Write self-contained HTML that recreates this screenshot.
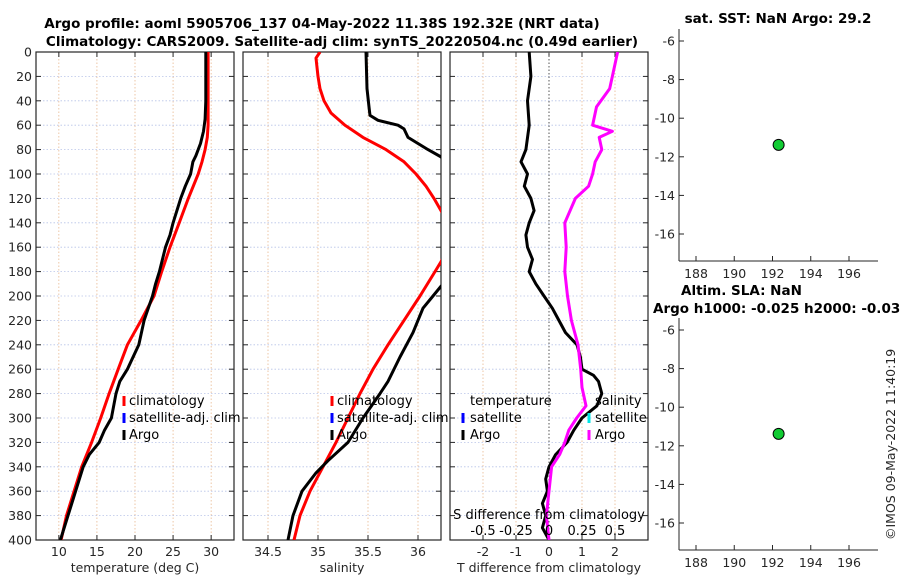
<!DOCTYPE html>
<html><head><meta charset="utf-8"><style>
body{margin:0;background:#fff;}
svg{display:block;font-family:"DejaVu Sans","Liberation Sans",sans-serif;}
.tk{font-size:12.5px;fill:#262626;}
.ttl{font-size:13.5px;font-weight:bold;fill:#000;}
.lg{font-size:13px;fill:#000;}
</style></head><body>
<svg id="c" width="900" height="580" viewBox="0 0 900 580">
<text class="ttl" x="322" y="28" text-anchor="middle">Argo profile: aoml 5905706_137 04-May-2022 11.38S 192.32E (NRT data)</text>
<text class="ttl" x="342" y="46" text-anchor="middle">Climatology: CARS2009. Satellite-adj clim: synTS_20220504.nc (0.49d earlier)</text>
<text class="ttl" x="778" y="23" text-anchor="middle">sat. SST: NaN Argo: 29.2</text>
<text class="ttl" x="681" y="295">Altim. SLA: NaN</text>
<text class="ttl" x="653" y="313">Argo h1000: -0.025 h2000: -0.033</text>
<text class="tk" transform="translate(895,540) rotate(-90)">©IMOS 09-May-2022 11:40:19</text>
</svg>
<script>
// ---- data ----
const depthTicks=[0,20,40,60,80,100,120,140,160,180,200,220,240,260,280,300,320,340,360,380,400];
const tempTicks=[10,15,20,25,30];
const salTicks=[34.5,35,35.5,36];
const tdTicks=[-2,-1,0,1,2];
const sdTicks=[-0.5,-0.25,0,0.25,0.5];
const sdTickLabels=['-0.5','-0.25','0','0.25','0.5'];
const lonTicks=[188,190,192,194,196];
const latTicks=[-6,-8,-10,-12,-14,-16];
const tClimDepth=[0,20,40,60,70,80,90,100,120,140,160,180,200,220,240,260,280,300,320,340,360,380,400];
const tClim=[29.6,29.6,29.6,29.6,29.5,29.2,28.8,28.3,27.0,25.8,24.6,23.5,22.5,20.8,19.0,17.8,16.6,15.5,14.3,13.0,12.0,11.0,10.3];
const tArgoDepth=[0,20,40,55,65,75,85,90,100,110,120,140,150,160,180,190,200,220,240,260,270,280,300,310,320,330,340,360,380,400];
const tArgo=[29.3,29.3,29.3,29.2,29.0,28.6,28.0,27.6,27.3,26.6,26.0,25.0,24.6,24.0,23.2,22.7,22.3,21.2,20.5,19.0,18.0,17.5,16.9,16.0,15.3,14.0,13.2,12.2,11.2,10.2];
const sClimDepth=[0,5,20,30,40,50,60,70,80,90,100,110,120,130,140,160,172,180,200,220,240,260,280,300,320,340,360,380,400];
const sClim=[35.02,34.98,35.0,35.02,35.06,35.13,35.27,35.45,35.68,35.86,35.98,36.08,36.16,36.23,36.3,36.3,36.23,36.17,36.02,35.86,35.7,35.55,35.42,35.3,35.18,35.05,34.92,34.82,34.76];
const sArgoDepth=[0,30,45,52,56,60,63,70,80,86,100,180,192,200,210,230,250,270,280,300,320,335,345,360,380,400];
const sArgo=[35.48,35.49,35.51,35.52,35.6,35.8,35.86,35.9,36.1,36.23,36.4,36.4,36.23,36.15,36.05,35.95,35.82,35.7,35.62,35.45,35.3,35.1,34.98,34.84,34.75,34.7];
const tdDepth=[0,20,40,60,80,90,100,110,120,130,140,150,160,170,180,190,200,210,220,230,240,250,260,265,270,280,290,300,310,320,330,340,350,360,370,380,390,400];
const tDiff=[-0.6,-0.55,-0.65,-0.6,-0.7,-0.85,-0.65,-0.75,-0.55,-0.45,-0.6,-0.7,-0.65,-0.5,-0.6,-0.4,-0.15,0.1,0.3,0.5,0.85,0.95,1.0,1.35,1.5,1.6,1.45,1.0,0.75,0.55,0.2,0.0,-0.1,-0.05,-0.2,-0.1,-0.2,0.0];
const sdDepth=[0,10,30,45,60,65,70,80,90,100,110,120,140,160,180,200,220,240,260,275,290,300,310,320,330,340,360,380,400];
const sDiff=[0.52,0.5,0.46,0.36,0.33,0.48,0.38,0.4,0.35,0.33,0.3,0.2,0.12,0.13,0.12,0.14,0.17,0.22,0.24,0.25,0.28,0.21,0.15,0.12,0.08,0.02,0.0,-0.02,0.0];
const lon=[192.32], lat=[-11.38];

const svg=document.getElementById('c');
const NS='http://www.w3.org/2000/svg';
function mk(tag,attrs,parent){const e=document.createElementNS(NS,tag);for(const k in attrs)e.setAttribute(k,attrs[k]);(parent||svg).appendChild(e);return e;}
const Y0=52,Y1=540;
const yD=d=>Y0+(d/400)*(Y1-Y0);
function lin(d0,d1,r0,r1){return v=>r0+(v-d0)/(d1-d0)*(r1-r0);}

function panel(name,x0,x1,xs,xticks,xlabels,showY){
  const g=mk('g',{});
  
  
  xticks.forEach(t=>{const x=xs(t);const l=mk('line',{x1:x,x2:x,y1:Y0,y2:Y1,stroke:'#e8b890','stroke-dasharray':'1.5,2','stroke-width':0.8},g);});
  depthTicks.forEach(d=>{const y=yD(d);const l=mk('line',{x1:x0,x2:x1,y1:y,y2:y,stroke:'#b8c4e8','stroke-dasharray':'1.5,2','stroke-width':0.8},g);
    mk('line',{x1:x0,x2:x0+5,y1:y,y2:y,stroke:'#262626'},g);mk('line',{x1:x1-5,x2:x1,y1:y,y2:y,stroke:'#262626'},g);
    if(showY){const t=mk('text',{x:x0-4,y:y+4.5,'text-anchor':'end',class:'tk'},g);t.textContent=d;}
  });
  xticks.forEach((t,i)=>{const x=xs(t);mk('line',{x1:x,x2:x,y1:Y1,y2:Y1-5,stroke:'#262626'},g);mk('line',{x1:x,x2:x,y1:Y0,y2:Y0+5,stroke:'#262626'},g);
    const tx=mk('text',{x:x,y:Y1+16,'text-anchor':'middle',class:'tk'},g);tx.textContent=xlabels[i];});
  const cp=mk('clipPath',{id:'cp'+name},svg);mk('rect',{x:x0,y:Y0,width:x1-x0,height:Y1-Y0},cp);
  const r=mk('rect',{x:x0,y:Y0,width:x1-x0,height:Y1-Y0,fill:'none',stroke:'#262626','stroke-width':1.2},g);
  
  return g;
}
function line(g,name,xs,vals,depths,color,clip,w){
  const p=vals.map((v,i)=>(i?'L':'M')+xs(v).toFixed(1)+','+yD(depths[i]).toFixed(1)).join('');
  const e=mk('path',{d:p,fill:'none',stroke:color,'stroke-width':w||3,'stroke-linejoin':'round','clip-path':'url(#cp'+clip+')'},g);
  
}
function txt(s,x,y,cls,anchor,name){const t=mk('text',{x:x,y:y,class:cls,'text-anchor':anchor||'start'});t.textContent=s;return t;}
function mark(x,y,color,name){const l=mk('line',{x1:x,x2:x,y1:y-6,y2:y+4,stroke:color,'stroke-width':3});}

const xT=lin(7,33,36,234);
const g1=panel('temperature-panel',36,234,xT,tempTicks,tempTicks.map(String),true);
line(g1,'temp-climatology-line',xT,tClim,tClimDepth,'#ff0000','temperature-panel');
line(g1,'temp-argo-line',xT,tArgo,tArgoDepth,'#000','temperature-panel');
txt('temperature (deg C)',135,572,'tk','middle','temperature-axis-title');
mark(124,402,'#ff0000','legend-clim-mark');txt('climatology',129,405,'lg','start','legend-climatology');
mark(124,419,'#0000ff','legend-sat-mark');txt('satellite-adj. clim',129,422,'lg','start','legend-satellite-adj');
mark(124,436,'#000','legend-argo-mark');txt('Argo',129,439,'lg','start','legend-argo');

const xS=lin(34.25,36.23,243,441);
const g2=panel('salinity-panel',243,441,xS,salTicks,['34.5','35','35.5','36'],false);
line(g2,'sal-climatology-line',xS,sClim,sClimDepth,'#ff0000','salinity-panel');
line(g2,'sal-argo-line',xS,sArgo,sArgoDepth,'#000','salinity-panel');
txt('salinity',342,572,'tk','middle','salinity-axis-title');
mark(332,402,'#ff0000','legend2-clim-mark');txt('climatology',337,405,'lg','start','legend2-climatology');
mark(332,419,'#0000ff','legend2-sat-mark');txt('satellite-adj. clim',337,422,'lg','start','legend2-satellite-adj');
mark(332,436,'#000','legend2-argo-mark');txt('Argo',337,439,'lg','start','legend2-argo');

const xTD=lin(-3,3,450,648);
const xSD=lin(-0.75,0.75,450,648);
const g3=panel('difference-panel',450,648,xTD,tdTicks,tdTicks.map(String),false);
const z=mk('line',{x1:xTD(0),x2:xTD(0),y1:Y0,y2:Y1,stroke:'#555','stroke-dasharray':'1.5,2'},g3);

line(g3,'t-diff-line',xTD,tDiff,tdDepth,'#000','difference-panel');
line(g3,'s-diff-line',xSD,sDiff,sdDepth,'#ff00ff','difference-panel');
txt('T difference from climatology',549,572,'tk','middle','t-diff-axis-title');
txt('S difference from climatology',549,519,'lg','middle','s-diff-axis-title');
sdTicks.forEach((t,i)=>txt(sdTickLabels[i],xSD(t),535,'lg','middle','s-diff-tick-label'));
txt('temperature',470,405,'lg','start','legend3-temp-header');
mark(463,419,'#0000ff','legend3-tsat-mark');txt('satellite',470,422,'lg','start','legend3-temp-satellite');
mark(463,436,'#000','legend3-targo-mark');txt('Argo',470,439,'lg','start','legend3-temp-argo');
txt('salinity',595,405,'lg','start','legend3-sal-header');
mark(589,419,'#00e5e5','legend3-ssat-mark');txt('satellite',595,422,'lg','start','legend3-sal-satellite');
mark(589,436,'#ff00ff','legend3-sargo-mark');txt('Argo',595,439,'lg','start','legend3-sal-argo');

function mapPanel(name,top,bot,lat6y){
  const g=mk('g',{});
  
  
  const xs=lin(188,196,696,849);
  const ys=v=>lat6y+(-6-v)*19.3;
  mk('line',{x1:679,x2:679,y1:top,y2:bot,stroke:'#262626'},g);
  mk('line',{x1:679,x2:878,y1:bot,y2:bot,stroke:'#262626'},g);
  latTicks.forEach(t=>{const y=ys(t);mk('line',{x1:679,x2:684,y1:y,y2:y,stroke:'#262626'},g);
    const tx=mk('text',{x:675,y:y+4.5,'text-anchor':'end',class:'tk'},g);tx.textContent=t;});
  lonTicks.forEach(t=>{const x=xs(t);mk('line',{x1:x,x2:x,y1:bot,y2:bot-5,stroke:'#262626'},g);
    const tx=mk('text',{x:x,y:bot+17,'text-anchor':'middle',class:'tk'},g);tx.textContent=t;});
  lon.forEach((v,i)=>{const c=mk('circle',{cx:xs(v),cy:ys(lat[i]),r:5.5,fill:'#11cc33',stroke:'#000','stroke-width':1},g);
    });
}
mapPanel('sst-map-panel',29,261,41);
mapPanel('sla-map-panel',318,550,330);
</script>
</body></html>
